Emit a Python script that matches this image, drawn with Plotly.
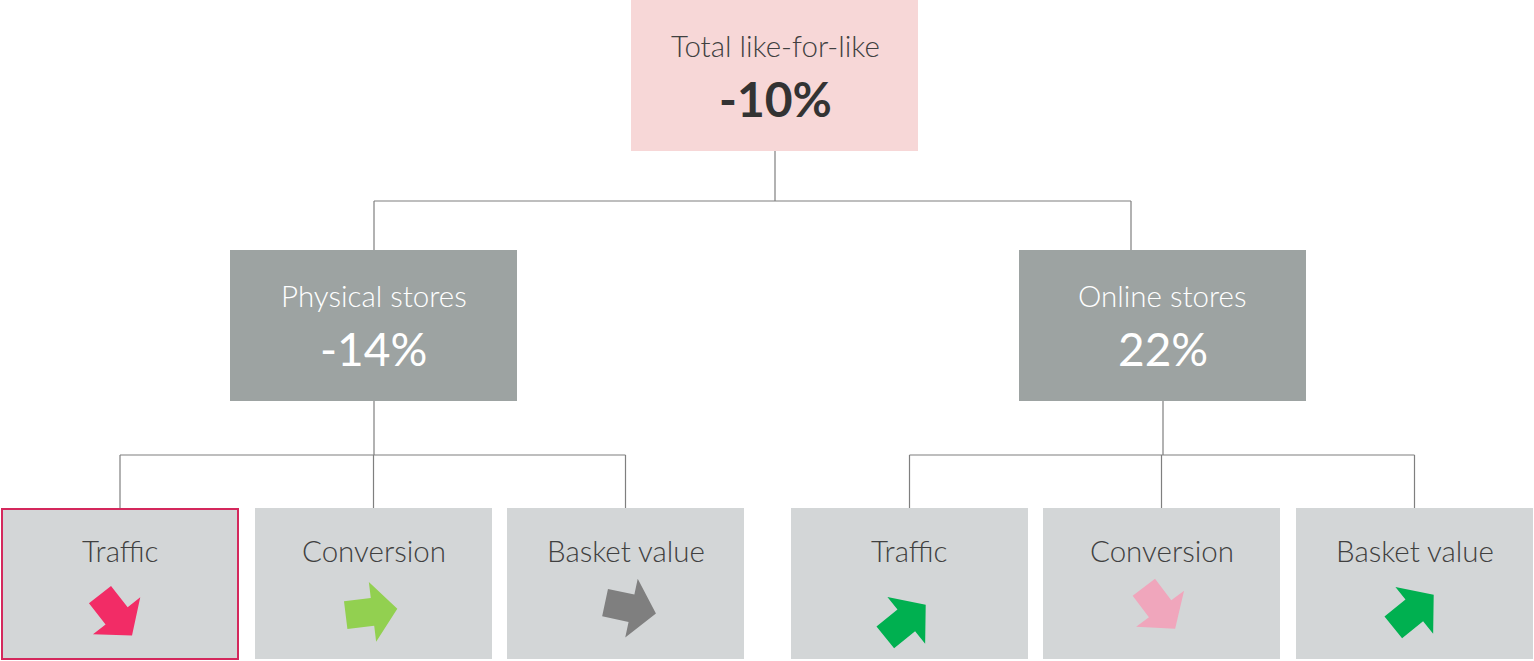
import math
import plotly.graph_objects as go

# ---- data ----
top_label = "Total like-for-like"
top_value = "-10%"
channels = ["Physical stores", "Online stores"]
channel_values = ["-14%", "22%"]
drivers = ["Traffic", "Conversion", "Basket value"]
# arrow direction in degrees (0 = right, positive = up)
physical_angles = [-52, 7, -12]
online_angles = [39, -53, 39]
physical_colors = ["#F22C66", "#92D050", "#7F7F7F"]
online_colors = ["#00B050", "#F0A6BC", "#00B050"]
highlight = (0, 0)  # channel index, driver index

# ---- layout geometry (pixels) ----
W, H = 1534, 661
FONT = "Lato"
DARK = "#404040"
LINE = "#7F7F7F"
arrow_offsets = [[(-4, 615), (-2, 612), (5, 608)], [(-4, 621), (-2, 608), (-1, 611)]]

fig = go.Figure()
shapes = []
ann = []


def rect(x0, y0, x1, y1, fill, line_color=None, lw=0):
    shapes.append(dict(type="rect", x0=x0, y0=y0, x1=x1, y1=y1, fillcolor=fill,
                       line=dict(color=line_color or fill, width=lw), layer="below"))


def seg(x0, y0, x1, y1):
    shapes.append(dict(type="line", x0=x0, y0=y0, x1=x1, y1=y1,
                       line=dict(color=LINE, width=1.2), layer="below"))


def text(x, y, s, size, color, weight=300):
    ann.append(dict(x=x, y=y, text=s, showarrow=False,
                    font=dict(family=FONT, size=size, color=color, weight=weight),
                    xanchor="center", yanchor="middle"))


def arrow(cx, cy, ang, color):
    # block-arrow template along +x, then rotated
    L, sw, hw, hl = 52, 14, 30, 25
    tpl = [(-L / 2, -sw), (L / 2 - hl, -sw), (L / 2 - hl, -hw), (L / 2, 0),
           (L / 2 - hl, hw), (L / 2 - hl, sw), (-L / 2, sw)]
    a = math.radians(ang)
    xs, ys = [], []
    for px, py in tpl:
        rx = px * math.cos(a) - py * math.sin(a)
        ry = px * math.sin(a) + py * math.cos(a)
        xs.append(cx + rx)
        ys.append(cy - ry)
    xs.append(xs[0]); ys.append(ys[0])
    fig.add_trace(go.Scatter(x=xs, y=ys, mode="lines", fill="toself", fillcolor=color,
                             line=dict(width=0, color=color), hoverinfo="skip",
                             showlegend=False))


# top box
tcx = 775
rect(631, 0, 918, 151, "#F7D7D7")
text(tcx, 45, top_label, 29.5, DARK)
text(tcx, 98, top_value, 48, "#333333", weight=700)

# connectors top -> channels
mid_cx = [374, 1131]
seg(tcx, 151, tcx, 201)
seg(mid_cx[0], 201, mid_cx[1], 201)
for cx in mid_cx:
    seg(cx, 201, cx, 250)

mid_boxes = [(230, 517), (1019, 1306)]
bottom_boxes = [[(1, 239), (255, 492), (507, 744)],
                [(791, 1028), (1043, 1280), (1296, 1533)]]
drop_x = [374, 1163]
angles = [physical_angles, online_angles]
colors = [physical_colors, online_colors]

for ci, (bx0, bx1) in enumerate(mid_boxes):
    rect(bx0, 250, bx1, 401, "#9DA3A2")
    c = (bx0 + bx1) / 2
    text(c, 295, channels[ci], 29.5, "white")
    text(c, 348, channel_values[ci], 46, "white", weight=400)
    seg(drop_x[ci], 401, drop_x[ci], 455)
    centers = [(a + b) / 2 for a, b in bottom_boxes[ci]]
    seg(centers[0], 455, centers[-1], 455)
    for di, (x0, x1) in enumerate(bottom_boxes[ci]):
        seg(centers[di], 455, centers[di], 508)
        if (ci, di) == highlight:
            rect(x0 + 1, 509, x1 - 1, 659, "#D3D6D7", "#D4285C", 2)
        else:
            rect(x0, 508, x1, 659, "#D3D6D7")
        text(centers[di], 550, drivers[di], 29.5, DARK)
        dx, cy = arrow_offsets[ci][di]
        arrow(centers[di] + dx, cy, angles[ci][di], colors[ci][di])

fig.update_layout(
    width=W, height=H, margin=dict(l=0, r=0, t=0, b=0),
    paper_bgcolor="white", plot_bgcolor="white",
    xaxis=dict(range=[0, W], visible=False, fixedrange=True),
    yaxis=dict(range=[H, 0], visible=False, fixedrange=True),
    shapes=shapes, annotations=ann, showlegend=False,
)
fig.write_html("out.html", post_script="document.body.style.margin='0';",
               config={"displayModeBar": False})
